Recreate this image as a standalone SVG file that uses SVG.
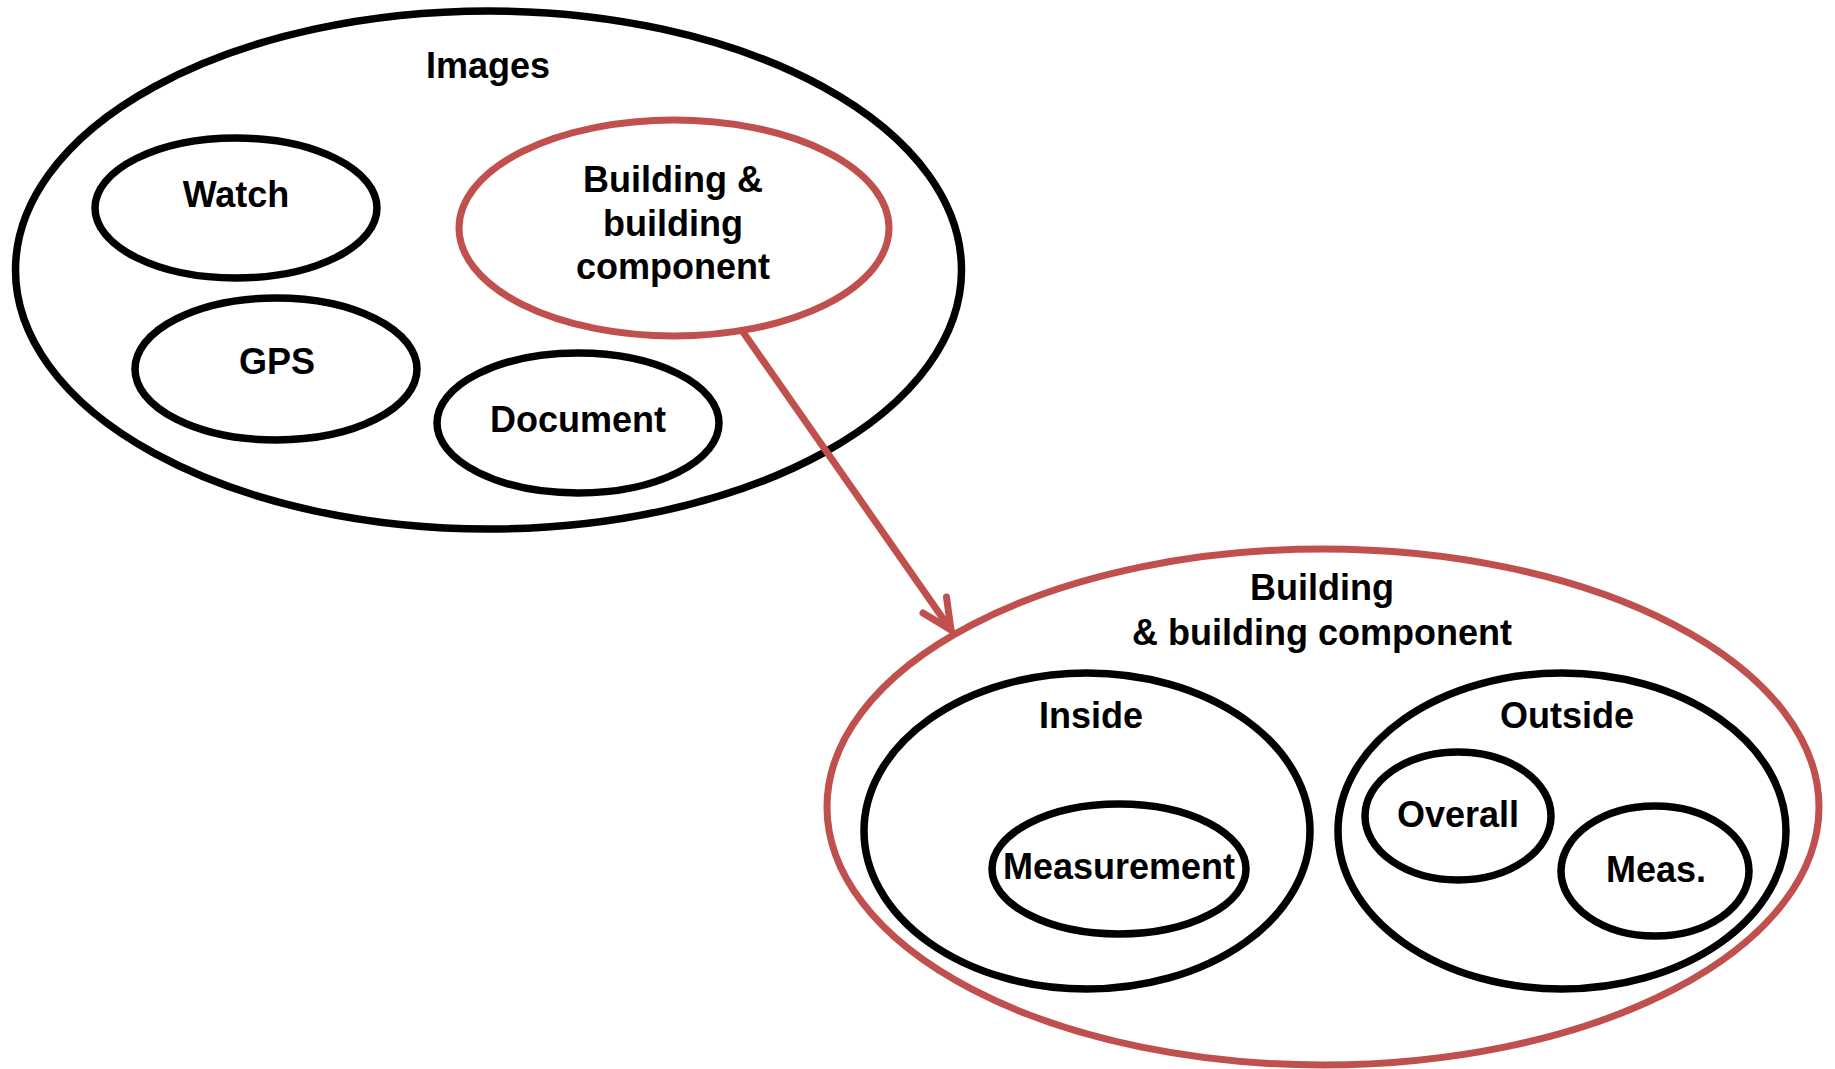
<svg xmlns="http://www.w3.org/2000/svg" width="1835" height="1069" viewBox="0 0 1835 1069">
  <style>
    .blk { fill: none; stroke: #000000; stroke-width: 7.5; }
    .red { fill: none; stroke: #C0504D; stroke-width: 7; }
    text { font-family: "Liberation Sans", Arial, sans-serif; font-weight: bold; font-size: 36px; fill: #000000; text-anchor: middle; }
    .conn { fill: none; stroke: #C0504D; stroke-width: 7; stroke-linecap: round; stroke-linejoin: round; }
  </style>
  <rect width="1835" height="1069" fill="#ffffff"/>

  <!-- Image categories -->
  <g id="images">
    <ellipse class="blk" cx="488.5" cy="270" rx="473" ry="259"/>
    <text x="488" y="78">Images</text>
  </g>
  <g id="watch">
    <ellipse class="blk" cx="236" cy="208" rx="141" ry="70"/>
    <text x="236" y="207">Watch</text>
  </g>
  <g id="gps">
    <ellipse class="blk" cx="276" cy="369" rx="141" ry="71"/>
    <text x="277" y="374">GPS</text>
  </g>
  <g id="document">
    <ellipse class="blk" cx="578" cy="423" rx="141" ry="70"/>
    <text x="578" y="432">Document</text>
  </g>
  <g id="building-small">
    <ellipse class="red" cx="674" cy="228" rx="215" ry="108"/>
    <text x="673" y="192">Building &amp;</text>
    <text x="673" y="236">building</text>
    <text x="673" y="279">component</text>
  </g>

  <!-- Building & building component breakdown -->
  <g id="building-large">
    <ellipse class="red" cx="1323" cy="807" rx="496" ry="258"/>
    <text x="1322" y="600">Building</text>
    <text x="1322" y="645">&amp; building component</text>
  </g>
  <g id="inside">
    <ellipse class="blk" cx="1087" cy="831" rx="223" ry="158"/>
    <text x="1091" y="728">Inside</text>
  </g>
  <g id="measurement">
    <ellipse class="blk" cx="1119" cy="869" rx="127" ry="65"/>
    <text x="1119" y="879">Measurement</text>
  </g>
  <g id="outside">
    <ellipse class="blk" cx="1562" cy="831" rx="224" ry="158"/>
    <text x="1567" y="728">Outside</text>
  </g>
  <g id="overall">
    <ellipse class="blk" cx="1458" cy="816" rx="93" ry="64"/>
    <text x="1458" y="827">Overall</text>
  </g>
  <g id="meas">
    <ellipse class="blk" cx="1655" cy="871" rx="94" ry="65"/>
    <text x="1656" y="882">Meas.</text>
  </g>

  <!-- Connector -->
  <g id="connectors">
    <line class="conn" x1="743" y1="332" x2="951" y2="630"/>
    <polyline class="conn" points="946.5,597 951,630 923,613"/>
  </g>
</svg>
